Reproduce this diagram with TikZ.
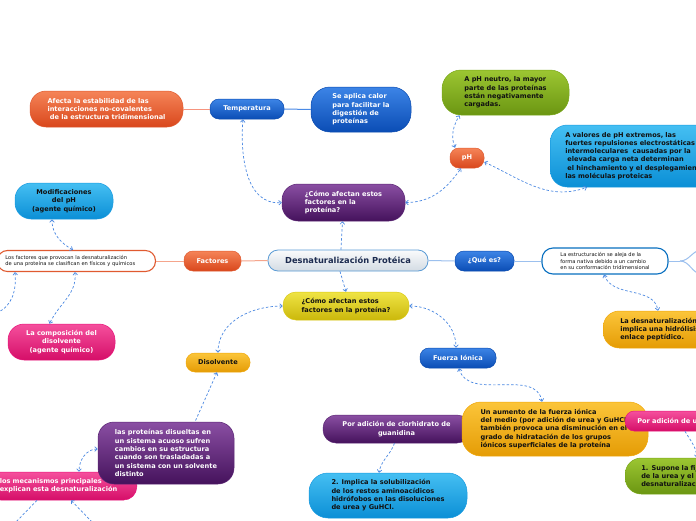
\documentclass[tikz,border=0pt]{standalone}
\usepackage{fontspec}
\setmainfont{DejaVu Sans}
\usetikzlibrary{arrows.meta}
\definecolor{bluetop}{HTML}{3C84E6}\definecolor{bluebot}{HTML}{0B4DB5}\definecolor{bluedraw}{HTML}{0A4BB0}
\definecolor{cyantop}{HTML}{45BFF2}\definecolor{cyanbot}{HTML}{0B8FD6}\definecolor{cyandraw}{HTML}{1A9BE0}
\definecolor{redtop}{HTML}{F58458}\definecolor{redbot}{HTML}{D9471C}\definecolor{reddraw}{HTML}{E05A30}
\definecolor{purptop}{HTML}{8A4FA3}\definecolor{purpbot}{HTML}{45125C}\definecolor{purpdraw}{HTML}{5A2574}
\definecolor{greentop}{HTML}{9CC632}\definecolor{greenbot}{HTML}{6B9612}\definecolor{greendraw}{HTML}{7AA81A}
\definecolor{ambertop}{HTML}{FBC53A}\definecolor{amberbot}{HTML}{E59C05}\definecolor{amberdraw}{HTML}{F0A80C}
\definecolor{yeltop}{HTML}{EFE445}\definecolor{yelbot}{HTML}{CBB80B}\definecolor{yeldraw}{HTML}{D9C814}
\definecolor{pinktop}{HTML}{F5509D}\definecolor{pinkbot}{HTML}{D50E68}\definecolor{pinkdraw}{HTML}{E8147A}
\definecolor{centop}{HTML}{FAFBFC}\definecolor{cenbot}{HTML}{D3DBE3}\definecolor{cendraw}{HTML}{5A9BD5}
\definecolor{dashc}{HTML}{4A88E2}
\definecolor{lineor}{HTML}{F5A58C}
\definecolor{linebl}{HTML}{9CC0EE}
\definecolor{lineblue}{HTML}{4A8AE6}
\definecolor{navytxt}{HTML}{1C2B4F}
\definecolor{darktxt}{HTML}{111111}
\newcommand\mmfont{\bfseries\fontsize{6.6}{8.3}\selectfont}
\newcommand\mmsmall{\fontsize{5.15}{6.8}\selectfont}
\tikzset{
  base/.style={rounded corners=9pt, inner sep=0pt, align=left, font=\mmfont, line width=0.5pt},
  bluebox/.style={base, top color=bluetop, bottom color=bluebot, draw=bluedraw, text=white},
  cyanbox/.style={base, top color=cyantop, bottom color=cyanbot, draw=cyandraw, text=darktxt},
  redbox/.style={base, top color=redtop, bottom color=redbot, draw=reddraw, text=white},
  purpbox/.style={base, top color=purptop, bottom color=purpbot, draw=purpdraw, text=white},
  greenbox/.style={base, top color=greentop, bottom color=greenbot, draw=greendraw, text=darktxt},
  amberbox/.style={base, top color=ambertop, bottom color=amberbot, draw=amberdraw, text=darktxt},
  yelbox/.style={base, top color=yeltop, bottom color=yelbot, draw=yeldraw, text=darktxt},
  pinkbox/.style={base, top color=pinktop, bottom color=pinkbot, draw=pinkdraw, text=white},
  whitebox/.style={base, fill=white, line width=1.1pt, font=\mmsmall, text=darktxt},
  centralbox/.style={base, top color=centop, bottom color=cenbot, draw=cendraw, line width=0.8pt,
     text=navytxt, font=\bfseries\fontsize{8.3}{10}\selectfont},
  dl/.style={draw=dashc, dash pattern=on 2.5pt off 2pt, line width=0.7pt},
  solidor/.style={draw=lineor, line width=1pt},
  solidbl/.style={draw=linebl, line width=1pt},
  solidblue/.style={draw=lineblue, line width=1pt},
  >={Straight Barb[length=2.5pt,width=4.5pt]}
}
\begin{document}
\begin{tikzpicture}[x=1pt,y=-1pt]
\useasboundingbox (0,0) rectangle (696,520);
\fill[white] (0,0) rectangle (696,520);
\clip (0,0) rectangle (696,520);

% free-end coordinates
\coordinate (split) at (680,261);
\coordinate (offD) at (702,250);
\coordinate (offE) at (702,274);
\coordinate (offA) at (93,523);
\coordinate (offB) at (15,523);
\coordinate (offC) at (-4,313);

% nodes
\node[centralbox, minimum width=160pt, minimum height=21pt, rounded corners=10pt] (central) at (348,260.5) {Desnaturalización Protéica};
\node[redbox, minimum width=57pt, minimum height=20pt] (factores) at (212.5,261) {Factores};
\node[whitebox, draw=reddraw, anchor=east, inner xsep=8pt, text width=142pt, minimum height=21pt, rounded corners=10pt] (losfact) at (156,261)
  {Los factores que provocan la desnaturalización\\de una proteína se clasifican en físicos y químicos};
\node[bluebox, minimum width=59pt, minimum height=20pt] (quees) at (484.5,261) {¿Qué es?};
\node[whitebox, draw=bluedraw!80!cyan, minimum width=126pt, minimum height=26pt, rounded corners=11pt] (estruct) at (605,261)
  {La estructuración se aleja de la\\forma nativa debido a un cambio\\en su conformación tridimensional};
\node[bluebox, minimum width=74pt, minimum height=20pt] (temp) at (247,109) {Temperatura};
\node[redbox, minimum width=153pt, minimum height=36pt, rounded corners=16pt] (afecta) at (106.5,109)
  {Afecta la estabilidad de las\\interacciones no-covalentes\\\ de la estructura tridimensional};
\node[bluebox, minimum width=100pt, minimum height=45pt, rounded corners=19pt] (seaplica) at (361,109.5)
  {Se aplica calor\\para facilitar la\\digestión de\\proteínas};
\node[purpbox, minimum width=123pt, minimum height=37pt, rounded corners=16pt] (comoP) at (343.5,202.5)
  {¿Cómo afectan estos\\factores en la\\proteína?};
\node[redbox, minimum width=34pt, minimum height=20pt] (pH) at (467,158) {pH};
\node[greenbox, minimum width=127pt, minimum height=45pt, rounded corners=19pt] (pHneutro) at (505.5,92.5)
  {A pH neutro, la mayor\\parte de las proteínas\\están negativamente\\cargadas.};
\node[cyanbox, anchor=west, inner xsep=15pt, text width=200pt, minimum height=62pt, rounded corners=17pt] (valores) at (550,156)
  {A valores de pH extremos, las\\fuertes repulsiones electrostáticas\\intermoleculares\ \ causadas por la\\\ elevada carga neta determinan\\\ el hinchamiento y el desplegamiento de\\las moléculas proteicas};
\node[cyanbox, align=center, minimum width=98pt, minimum height=36pt, rounded corners=16pt] (modif) at (64,201)
  {Modificaciones\\del pH\\(agente químico)};
\node[pinkbox, align=center, minimum width=107pt, minimum height=36pt, rounded corners=16pt] (compos) at (61.5,342)
  {La composición del\\disolvente\\(agente químico)};
\node[yelbox, minimum width=126pt, minimum height=28pt, rounded corners=13pt] (comoY) at (346,306)
  {¿Cómo afectan estos\\factores en la proteína?};
\node[amberbox, minimum width=64pt, minimum height=19pt] (disolv) at (218,362.5) {Disolvente};
\node[bluebox, minimum width=76pt, minimum height=20pt] (fuerza) at (458,358) {Fuerza Iónica};
\node[pinkbox, anchor=east, inner xsep=12pt, text width=125pt, minimum height=28pt, rounded corners=13pt] (mecanismos) at (137,486)
  {los mecanismos principales\\explican esta desnaturalización};
\node[purpbox, minimum width=136pt, minimum height=62pt, rounded corners=16pt] (proteinas) at (166,453)
  {las proteínas disueltas en\\un sistema acuoso sufren\\cambios en su estructura\\cuando son trasladadas a\\un sistema con un solvente\\distinto};
\node[purpbox, align=center, minimum width=147pt, minimum height=28pt, rounded corners=13pt] (clorhidrato) at (396.5,429)
  {Por adición de clorhidrato de\\guanidina};
\node[amberbox, minimum width=186pt, minimum height=54pt, rounded corners=19pt] (aumento) at (555,429)
  {Un aumento de la fuerza iónica\\del medio (por adición de urea y GuHCl)\\también provoca una disminución en el\\grado de hidratación de los grupos\\iónicos superficiales de la proteína};
\node[pinkbox, anchor=west, inner xsep=12pt, text width=120pt, minimum height=20pt] (poradic) at (625,421) {Por adición de urea};
\node[greenbox, anchor=west, inner xsep=16pt, text width=120pt, minimum height=36pt, rounded corners=16pt] (supone) at (625,476)
  {1. Supone la fijación\\de la urea y el\\desnaturalización};
\node[cyanbox, minimum width=158pt, minimum height=45pt, rounded corners=19pt] (implica) at (388,495.5)
  {2. Implica la solubilización\\de los restos aminoacídicos\\hidrófobos en las disoluciones\\de urea y GuHCl.};
\node[amberbox, anchor=west, inner xsep=17pt, text width=120pt, minimum height=37pt, rounded corners=16pt] (desnat) at (603,329.5)
  {La desnaturalización no\\implica una hidrólisis del\\enlace peptídico.};

% solid connectors
\draw[solidor] (central.west) -- (factores.east);
\draw[solidor] (factores.west) -- (losfact.east);
\draw[solidbl] (central.east) -- (quees.west);
\draw[solidbl] (quees.east) -- (estruct.west);
\draw[solidbl] (estruct.east) -- (split);
\draw[solidbl] (split) to[out=0,in=180] (offD);
\draw[solidbl] (split) to[out=0,in=180] (offE);
\draw[solidor, draw=lineor!90!red] (temp.west) -- (afecta.east);
\draw[solidblue] (temp.east) -- (seaplica.west);

% dashed connectors
\draw[dl,<->] ([xshift=-4pt]temp.south) to[out=-95,in=185] (comoP.west);
\draw[dl,<->] (comoP.east) to[out=0,in=235] ([xshift=-6pt]pH.south);
\draw[dl,<->] ([xshift=-12pt]pH.north) to[out=110,in=240] ([xshift=-46pt]pHneutro.south);
\draw[dl,<->] ([yshift=-4pt]pH.east) to[out=-25,in=200] ([xshift=37pt]valores.south west);
\draw[dl,->] ([xshift=-7pt]central.north) -- ([xshift=-1pt]comoP.south);
\draw[dl,->] ([xshift=-8pt]central.south) -- (comoY.north);
\draw[dl,<->] (comoY.west) to[out=180,in=90] (disolv.north);
\draw[dl,<->] (comoY.east) to[out=0,in=90] ([xshift=-2pt]fuerza.north);
\draw[dl,<->] ([xshift=1pt]fuerza.south) to[out=-75,in=100] ([xshift=-13pt]aumento.north);
\draw[dl,<-] ([xshift=-1pt]disolv.south) -- ([xshift=29pt]proteinas.north);
\draw[dl,<->] ([yshift=4pt]proteinas.west) to[out=180,in=90] ([xshift=-58pt]mecanismos.north east);
\draw[dl,<-] ([xshift=-66pt]mecanismos.south east) -- (offA);
\draw[dl] ([xshift=-100pt]mecanismos.south east) -- (offB);
\draw[dl,<-] ([xshift=-141pt]losfact.south east) to[out=-85,in=20] (offC);
\draw[dl,<->] ([xshift=-81pt]losfact.south east) to[out=-85,in=65] ([xshift=-12pt]compos.north);
\draw[dl,<->] ([xshift=-83pt]losfact.north east) to[out=150,in=-90] ([xshift=-12pt]modif.south);
\draw[dl,->] ([xshift=-2pt]clorhidrato.south) to[out=-110,in=80] ([xshift=-9pt]implica.north);
\draw[dl,->] ([xshift=60pt]poradic.south west) to[out=-60,in=95] ([xshift=72pt]supone.north west);
\draw[dl,<->] ([xshift=-1pt]estruct.south) to[out=-70,in=100] ([xshift=55pt]desnat.north west);
\end{tikzpicture}
\end{document}
